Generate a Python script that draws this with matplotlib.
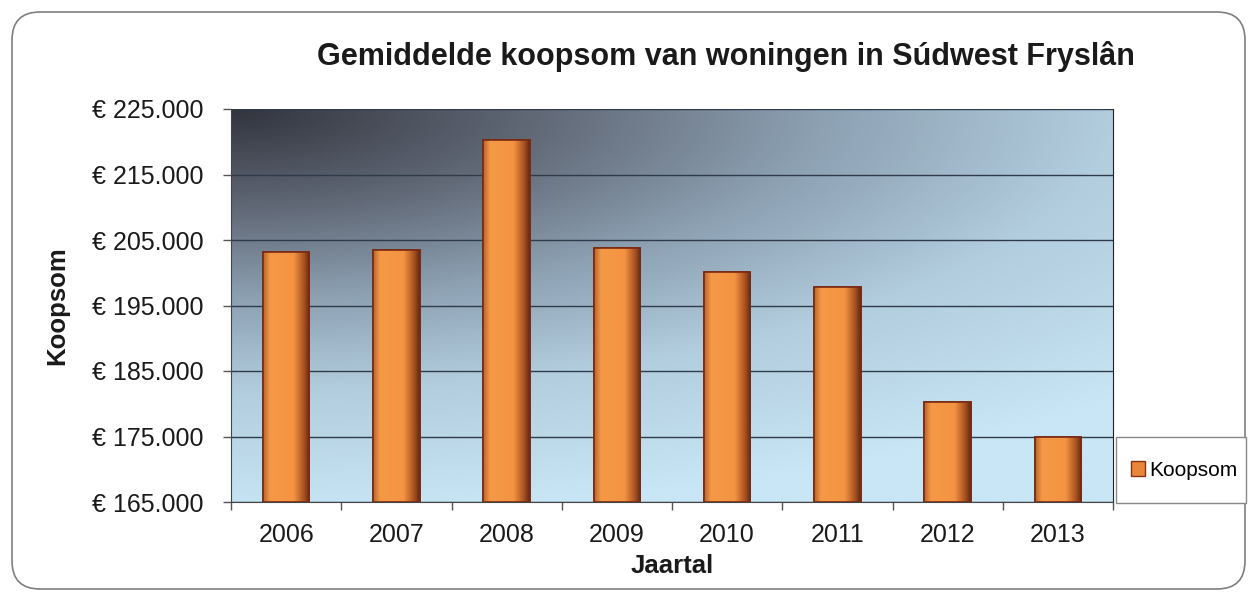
import matplotlib.pyplot as plt
import numpy as np
from matplotlib.colors import LinearSegmentedColormap
from matplotlib.patches import FancyBboxPatch, Rectangle, Patch
from matplotlib.ticker import FuncFormatter, FixedLocator
from matplotlib.transforms import IdentityTransform

plt.rcParams['font.family'] = ['Liberation Sans', 'DejaVu Sans']

# gemiddelde koopsom per jaar
jaren = ['2006', '2007', '2008', '2009', '2010', '2011', '2012', '2013']
koopsom = [203200, 203500, 220300, 203800, 200100, 197900, 180200, 174900]
y_ticks = [165000, 175000, 185000, 195000, 205000, 215000, 225000]

W, H = 1248, 592
fig = plt.figure(figsize=(W / 100, H / 100), dpi=100)

# afgeronde rand om de hele grafiek (in pixels)
rand = FancyBboxPatch((12, 3), 1233, 577,
                      boxstyle='round,pad=0,rounding_size=28',
                      transform=IdentityTransform(), facecolor='white',
                      edgecolor='#7f7f7f', linewidth=1.2, zorder=0)
fig.patches.append(rand)

ax = fig.add_axes([231 / W, 1 - 502 / H, 882 / W, 393 / H])
ax.set_zorder(2)

# achtergrond: donker linksboven, lichtblauw naar rechtsonder
bg_stops = [0.0, 0.3, 0.6, 0.9, 1.3]
bg_kleuren = [(50, 53, 62), (95, 102, 116), (140, 160, 178),
              (178, 205, 222), (200, 230, 245)]
bg_cmap = LinearSegmentedColormap.from_list('bg', [
    (s / 1.3, tuple(c / 255 for c in k)) for s, k in zip(bg_stops, bg_kleuren)])
u, v = np.meshgrid(np.linspace(0, 1, 400), np.linspace(0, 1, 200))
r = np.sqrt((u * 0.9) ** 2 + (v * 1.25) ** 2)
ax.imshow(r, cmap=bg_cmap, vmin=0, vmax=1.3, origin='upper',
          extent=[0, 1, 0, 1], transform=ax.transAxes, aspect='auto', zorder=0)

x = np.arange(len(jaren))
bars = ax.bar(x, koopsom, width=0.42, color='#f0923a',
              edgecolor='#7a2a12', linewidth=1.2, zorder=3)

# cilinder-achtige kleurverloop in de staven
bar_cmap = LinearSegmentedColormap.from_list('bar', [
    (0.0, (0.72, 0.40, 0.18)),
    (0.15, (0.96, 0.60, 0.28)),
    (0.65, (0.96, 0.58, 0.26)),
    (0.88, (0.66, 0.32, 0.13)),
    (1.0, (0.38, 0.16, 0.07)),
])
grad = np.linspace(0, 1, 100).reshape(1, -1)
for b in bars:
    x0, w, h = b.get_x(), b.get_width(), b.get_height()
    im = ax.imshow(grad, cmap=bar_cmap, aspect='auto',
                   extent=[x0, x0 + w, y_ticks[0], h], zorder=3.5)
    im.set_clip_path(b)
    # rand opnieuw over het verloop
    ax.add_patch(Rectangle((x0, y_ticks[0]), w, h - y_ticks[0], fill=False,
                           edgecolor='#7a2a12', linewidth=1.2, zorder=4))

ax.set_xlim(-0.5, len(jaren) - 0.5)
ax.set_ylim(y_ticks[0], y_ticks[-1])

ax.set_yticks(y_ticks)
ax.yaxis.set_major_formatter(FuncFormatter(
    lambda val, pos: '€ ' + f'{int(val):,}'.replace(',', '.')))
ax.set_xticks(x)
ax.set_xticklabels(jaren)
ax.xaxis.set_minor_locator(FixedLocator(np.arange(-0.5, len(jaren), 1)))
ax.tick_params(axis='x', which='major', length=0, pad=15, labelsize=18,
               labelcolor='#1a1a1a')
ax.tick_params(axis='x', which='minor', length=6, width=1, color='#555555')
ax.tick_params(axis='y', length=6, width=1, color='#555555', pad=14,
               labelsize=18, labelcolor='#1a1a1a')

ax.grid(axis='y', color='#2f3a4a', linewidth=1.0, zorder=1)
ax.spines['top'].set_visible(False)
ax.spines['left'].set_color('#444444')
ax.spines['bottom'].set_color('#444444')
ax.spines['right'].set_color('#222222')

ax.set_ylabel('Koopsom', fontsize=18.5, fontweight='bold', labelpad=16,
              color='#1a1a1a')
ax.set_xlabel('Jaartal', fontsize=18.5, fontweight='bold', labelpad=5,
              color='#1a1a1a')

fig.text(726 / W, 1 - 57 / H,
         'Gemiddelde koopsom van woningen in Súdwest Fryslân',
         ha='center', va='center', fontsize=22, fontweight='bold',
         color='#1a1a1a')

# legenda in een eigen kader rechts
fig.patches.append(Rectangle((1116 / W, 1 - 503 / H), 130 / W, 66 / H,
                             transform=fig.transFigure, facecolor='white',
                             edgecolor='#888888', linewidth=1.0, zorder=1))
fig.legend(handles=[Patch(facecolor='#e8863a', edgecolor='#8a3015',
                          label='Koopsom')],
           loc='center', bbox_to_anchor=(1184 / W, 1 - 470 / H),
           frameon=False, fontsize=15, handlelength=0.7, handleheight=0.7,
           handletextpad=0.2)

fig.savefig('out.png', dpi=100)
